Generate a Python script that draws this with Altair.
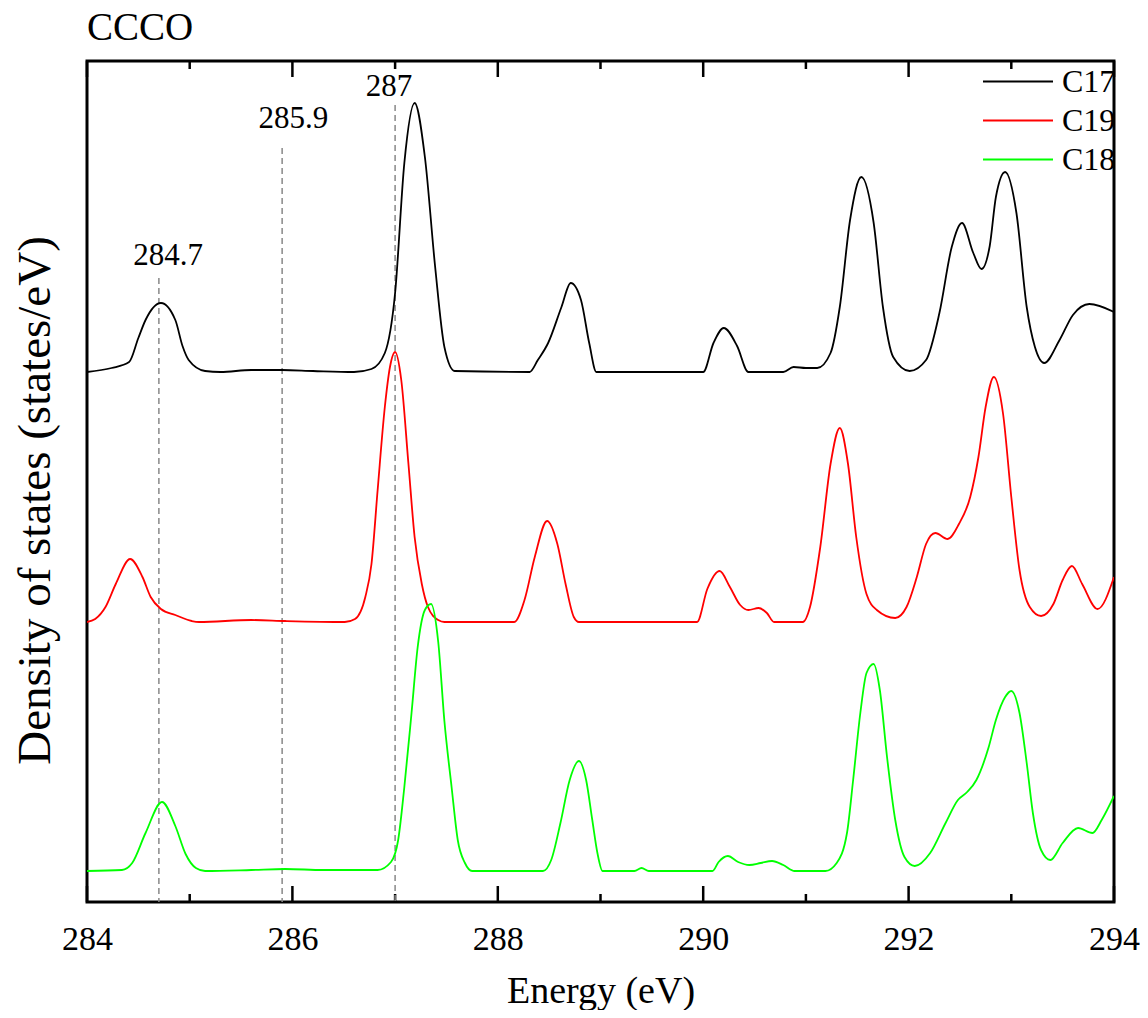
import altair as alt
import pandas as pd

# ---------------- data ----------------
c17_e = [284.00, 284.24, 284.41, 284.50, 284.57, 284.72, 284.86, 284.93, 284.99, 285.15, 285.30,
         285.60, 285.90, 286.20, 286.60, 286.77, 286.90, 287.00, 287.09, 287.19, 287.29, 287.39,
         287.48, 287.58, 288.31, 288.39, 288.49, 288.62, 288.71, 288.81, 288.89, 288.96, 290.00,
         290.10, 290.20, 290.33, 290.44, 290.78, 290.88, 291.00, 291.11, 291.24, 291.33, 291.43,
         291.54, 291.66, 291.75, 291.85, 292.01, 292.17, 292.30, 292.42, 292.52, 292.63, 292.71,
         292.79, 292.85, 292.94, 293.05, 293.15, 293.23, 293.32, 293.47, 293.60, 293.76, 294.00]
c17_v = [0, 4, 10, 34, 52, 69, 52, 26, 12, 1, 0,
         2, 2, 1, 0, 3, 19, 79, 209, 269, 215, 105,
         25, 1, 0, 12, 29, 65, 89, 72, 29, 0, 0,
         29, 44, 26, 0, 0, 5, 4, 4, 19, 65, 152,
         195, 149, 65, 15, 1, 12, 59, 125, 149, 119, 103,
         126, 175, 200, 159, 65, 25, 9, 32, 57, 68, 60]

c19_e = [284.00, 284.08, 284.18, 284.28, 284.42, 284.54, 284.62, 284.72, 284.86, 285.02, 285.09,
         285.60, 285.93, 286.51, 286.61, 286.71, 286.77, 286.83, 286.90, 286.95, 287.00, 287.06,
         287.13, 287.19, 287.26, 287.32, 287.42, 287.48, 288.16, 288.26, 288.36, 288.48, 288.58,
         288.66, 288.74, 288.79, 289.94, 290.04, 290.16, 290.26, 290.36, 290.44, 290.54, 290.62,
         290.69, 290.97, 291.04, 291.14, 291.24, 291.33, 291.41, 291.49, 291.59, 291.69, 291.87,
         291.98, 292.08, 292.17, 292.26, 292.38, 292.49, 292.60, 292.68, 292.75, 292.83, 292.92,
         293.00, 293.08, 293.18, 293.29, 293.41, 293.50, 293.59, 293.69, 293.84, 294.00]
c19_v = [0, 3, 15, 38, 63, 45, 25, 13, 7, 1, 0,
         2, 1, 0, 3, 25, 58, 132, 215, 255, 270, 242,
         158, 85, 38, 15, 2, 0, 0, 22, 65, 101, 78,
         38, 5, 0, 0, 33, 51, 35, 17, 12, 14, 9,
         0, 0, 15, 75, 158, 194, 158, 85, 28, 12, 4,
         15, 45, 78, 89, 83, 98, 125, 165, 215, 245, 208,
         125, 52, 15, 6, 18, 42, 56, 38, 13, 45]

c18_e = [284.00, 284.34, 284.44, 284.57, 284.73, 284.86, 284.96, 285.06, 285.15, 285.60, 285.93,
         286.30, 286.83, 286.96, 287.03, 287.09, 287.16, 287.22, 287.29, 287.35, 287.42, 287.48,
         287.55, 287.61, 287.68, 287.75, 288.44, 288.52, 288.61, 288.70, 288.79, 288.86, 288.92,
         288.97, 289.02, 289.33, 289.40, 289.47, 290.09, 290.15, 290.24, 290.34, 290.45, 290.56,
         290.67, 290.78, 290.89, 291.19, 291.30, 291.40, 291.46, 291.53, 291.59, 291.66, 291.72,
         291.79, 291.87, 291.96, 292.06, 292.21, 292.36, 292.48, 292.57, 292.66, 292.78, 292.85,
         292.94, 293.00, 293.08, 293.15, 293.21, 293.29, 293.38, 293.50, 293.65, 293.79, 293.88,
         294.00]
c18_v = [0, 1, 8, 38, 69, 45, 17, 3, 0, 1, 2,
         1, 1, 9, 31, 84, 158, 224, 261, 267, 229, 150,
         84, 31, 8, 0, 0, 11, 48, 91, 110, 91, 51,
         18, 0, 0, 3, 0, 0, 9, 15, 9, 6, 8,
         10, 6, 0, 0, 8, 38, 91, 158, 198, 207, 181,
         114, 51, 14, 5, 18, 48, 71, 79, 91, 124, 151,
         174, 180, 158, 108, 58, 21, 11, 28, 43, 38, 51,
         75]

series_names = ["C17", "C19", "C18"]
series_colors = ["#000000", "#ff0000", "#00ff00"]
series_offsets = [530, 280, 31]

marker_e = [284.7, 285.9, 287.0]
marker_top = [624, 754, 797]
marker_text = ["284.7", "285.9", "287"]
marker_label_e = [284.79, 286.01, 286.94]
marker_label_y = [630, 767, 799]

major_ticks = [284, 286, 288, 290, 292, 294]
minor_ticks = [285, 287, 289, 291, 293]

# ---------------- layout constants ----------------
W, H = 1027, 841
YMAX = 841
MAJOR_LEN, MINOR_LEN = 16, 8
FONT = "Liberation Serif"

# ---------------- build tables ----------------
rows = []
for name, off, es, vs in zip(series_names, series_offsets,
                             [c17_e, c19_e, c18_e], [c17_v, c19_v, c18_v]):
    for i, (e, v) in enumerate(zip(es, vs)):
        rows.append({"energy": e, "dos": v + off, "series": name, "order": i})
df = pd.DataFrame(rows)

df_mark = pd.DataFrame({"energy": marker_e, "top": marker_top, "text": marker_text,
                        "le": marker_label_e, "ly": marker_label_y})

tick_rows = []
for t in major_ticks:
    tick_rows.append({"tpos": t, "ya": 0, "yb": MAJOR_LEN})
    tick_rows.append({"tpos": t, "ya": YMAX, "yb": YMAX - MAJOR_LEN})
for t in minor_ticks:
    tick_rows.append({"tpos": t, "ya": 0, "yb": MINOR_LEN})
    tick_rows.append({"tpos": t, "ya": YMAX, "yb": YMAX - MINOR_LEN})
df_ticks = pd.DataFrame(tick_rows)

xscale = alt.Scale(domain=[284, 294], nice=False, zero=False)
yscale = alt.Scale(domain=[0, YMAX], nice=False, zero=False)

ticks = alt.Chart(df_ticks).mark_rule(color="black", strokeWidth=2.5).encode(
    x=alt.X("tpos:Q", scale=xscale,
            axis=alt.Axis(values=major_ticks, title="Energy (eV)", ticks=False, domain=False,
                          grid=False, labelFontSize=34, labelPadding=20, format="d",
                          labelFlush=False,
                          titleFontSize=38, titlePadding=16, titleFontWeight="normal",
                          labelColor="black", titleColor="black", labelFont=FONT, titleFont=FONT)),
    y=alt.Y("ya:Q", scale=yscale,
            axis=alt.Axis(title="Density of states (states/eV)", labels=False, ticks=False,
                          domain=False, grid=False, titleFontSize=47, titlePadding=28,
                          titleY=439,
                          titleFontWeight="normal", titleColor="black", titleFont=FONT)),
    y2="yb:Q",
)

dashed = alt.Chart(df_mark).mark_rule(color="#888888", strokeWidth=1.5, strokeDash=[6, 4]).encode(
    x=alt.X("energy:Q", scale=xscale),
    y=alt.Y("top:Q", scale=yscale),
    y2=alt.value(H),
)

lines = alt.Chart(df).mark_line(strokeWidth=1.8, interpolate="monotone", clip=True).encode(
    x=alt.X("energy:Q", scale=xscale),
    y=alt.Y("dos:Q", scale=yscale),
    color=alt.Color("series:N",
                    scale=alt.Scale(domain=series_names, range=series_colors),
                    legend=alt.Legend(title=None, orient="none", legendX=895, legendY=1,
                                      symbolType="stroke", symbolSize=4900, symbolStrokeWidth=2,
                                      labelFontSize=32, labelFont=FONT, labelColor="black",
                                      labelOffset=8, rowPadding=0, clipHeight=39, padding=0)),
    order="order:Q",
)

labels = alt.Chart(df_mark).mark_text(font=FONT, fontSize=31, baseline="bottom", align="center",
                                      color="black").encode(
    x=alt.X("le:Q", scale=xscale),
    y=alt.Y("ly:Q", scale=yscale),
    text="text:N",
)

chart = alt.layer(ticks, dashed, lines, labels).properties(
    width=W, height=H,
    title=alt.Title("CCCO", anchor="start", fontSize=39, font=FONT, fontWeight="normal",
                    color="black", offset=12, frame="group"),
    padding={"left": 79, "top": 53, "right": 26, "bottom": 108},
    autosize=alt.AutoSizeParams(type="none"),
).configure(font=FONT).configure_view(stroke="black", strokeWidth=3)

chart.save("out.html", embed_options={"renderer": "svg", "actions": False})
